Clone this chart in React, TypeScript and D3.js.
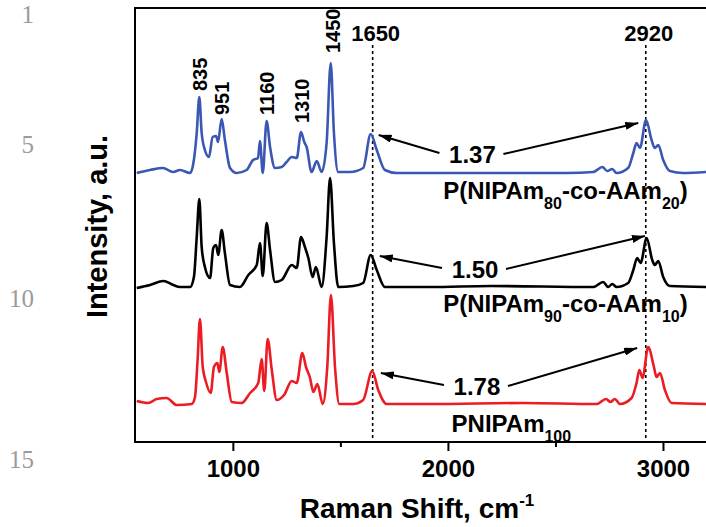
import React, { useEffect, useRef } from 'react';
import * as d3 from 'd3';

// Raman spectra, [shift cm-1, intensity a.u.] (offset stacked as in the figure)
const blueSpectrum = [
  [553, 26.9], [615, 27.2], [675, 27.4], [722, 27.0], [754, 27.2], [801, 26.9], [815, 27.7], [832, 30.9],
  [844, 34.5], [855, 30.9], [870, 29.2], [889, 28.5], [906, 30.5], [922, 30.6], [931, 30.0], [948, 32.3],
  [963, 30.2], [987, 27.4], [1018, 26.9], [1064, 27.2], [1094, 28.2], [1117, 28.4], [1126, 30.1], [1139, 26.9],
  [1157, 32.1], [1173, 29.5], [1196, 27.4], [1227, 27.5], [1250, 28.0], [1274, 28.5], [1297, 28.4], [1317, 31.0],
  [1332, 30.0], [1343, 29.5], [1366, 27.0], [1390, 28.1], [1413, 27.0], [1436, 29.9], [1455, 37.9], [1470, 30.9],
  [1490, 27.0], [1545, 27.0], [1606, 27.4], [1641, 30.8], [1669, 29.2], [1707, 27.2], [1762, 26.9], [1917, 26.9],
  [2242, 26.9], [2552, 26.9], [2676, 27.0], [2718, 27.5], [2741, 27.1], [2764, 27.3], [2784, 26.9], [2838, 27.4],
  [2862, 28.9], [2877, 29.9], [2893, 29.4], [2921, 32.2], [2947, 30.2], [2962, 29.4], [2978, 29.7], [3001, 28.2],
  [3032, 27.1], [3094, 26.9], [3200, 27.0],
];

const blackSpectrum = [
  [553, 15.4], [615, 15.7], [677, 16.1], [723, 15.7], [754, 15.5], [801, 15.5], [819, 16.5], [832, 20.5],
  [844, 24.3], [855, 19.5], [870, 17.5], [894, 16.4], [909, 19.4], [922, 19.7], [932, 18.7], [948, 21.2],
  [963, 18.9], [987, 15.7], [1033, 15.5], [1072, 16.7], [1111, 17.7], [1126, 19.9], [1139, 16.6], [1157, 21.9],
  [1173, 19.2], [1196, 16.0], [1227, 16.2], [1274, 17.7], [1297, 17.4], [1317, 20.5], [1335, 19.5], [1351, 18.4],
  [1371, 16.5], [1386, 17.5], [1413, 15.5], [1436, 20.5], [1452, 26.4], [1470, 19.9], [1490, 15.5], [1560, 15.6],
  [1606, 15.9], [1641, 18.7], [1669, 17.2], [1707, 15.5], [1917, 15.5], [2200, 15.6], [2676, 15.5], [2722, 16.0],
  [2745, 15.5], [2764, 15.8], [2784, 15.5], [2838, 15.9], [2862, 17.2], [2880, 18.4], [2896, 17.9], [2924, 20.4],
  [2950, 18.2], [2962, 17.7], [2978, 18.1], [3001, 16.5], [3032, 15.6], [3200, 15.5],
];

const redSpectrum = [
  [553, 4.1], [607, 3.9], [646, 4.3], [692, 4.4], [739, 3.7], [809, 3.8], [824, 4.5], [836, 8.2],
  [847, 12.3], [860, 7.5], [875, 6.0], [897, 4.9], [912, 7.5], [928, 7.9], [937, 7.0], [953, 9.5],
  [971, 7.0], [995, 4.0], [1041, 3.9], [1080, 4.9], [1118, 5.9], [1134, 8.3], [1146, 5.1], [1162, 10.3],
  [1181, 7.2], [1204, 4.2], [1238, 4.7], [1274, 6.1], [1297, 5.9], [1323, 8.9], [1340, 7.5], [1359, 6.4],
  [1374, 5.0], [1393, 5.8], [1418, 3.8], [1439, 7.5], [1456, 14.7], [1475, 7.5], [1495, 3.8], [1560, 3.8],
  [1606, 4.2], [1648, 7.1], [1676, 5.2], [1715, 3.8], [1917, 3.8], [2350, 3.9], [2692, 3.8], [2735, 4.3],
  [2756, 4.0], [2776, 4.3], [2800, 3.8], [2854, 4.4], [2877, 5.9], [2890, 7.2], [2905, 6.4], [2931, 9.5],
  [2958, 7.5], [2970, 6.5], [2986, 6.9], [3009, 5.2], [3040, 3.9], [3200, 3.8],
];

const seriesColors = ['#3a57b4', '#000000', '#ec1c24'];

// peak labels (rotated) at [shift, intensity of label bottom]
const peakNames = ['835', '951', '1160', '1310', '1450'];
const peakLabelPos = [[847, 35.1], [949, 32.7], [1159, 32.7], [1321, 31.9], [1465, 38.9]];

// dashed reference lines
const refLines = [1650, 2920];
const refLabelY = 40.1;
const refLineTop = 39.7;

// intensity ratio annotations
const ratioLabels = ['1.37', '1.50', '1.78'];
const ratioPos = [[2114, 27.9], [2126, 16.4], [2135, 4.7]];
const ratioLeftHead = [[1678, 30.7], [1683, 18.6], [1688, 6.9]];
const ratioRightHead = [[2885, 31.9], [2916, 20.6], [2880, 9.4]];

// sample names: alternating normal / subscript parts
const sampleParts = [
  ['P(NIPAm', '80', '-co-AAm', '20', ')'],
  ['P(NIPAm', '90', '-co-AAm', '10', ')'],
  ['PNIPAm', '100'],
];
const samplePos = [[1978, 24.3], [1978, 13.0], [2017, 1.0]];

const majorTicks = [1000, 2000, 3000];
const minorTicks = [1500, 2500];

// manuscript line numbers in the page margin
const lineNumbers = ['1', '5', '10', '15'];
const lineNumberY = [23, 153, 307, 468];

const W = 706;
const H = 527;
const left = 135;
const top = 8;
const bottom = 442;
const FONT = "'Liberation Sans', Arial, Helvetica, sans-serif";

const App = () => {
  const axisRef = useRef<SVGGElement>(null);

  const x = d3.scaleLinear().domain([545, 3200]).range([left, W]);
  const y = d3.scaleLinear().domain([0, 43.4]).range([bottom, top]);

  const line = d3.line<number[]>()
    .x(d => x(d[0]))
    .y(d => y(d[1]))
    .curve(d3.curveMonotoneX);

  useEffect(() => {
    const g = d3.select(axisRef.current);
    g.selectAll('*').remove();

    const major = g.append('g')
      .call(d3.axisBottom(x).tickValues(majorTicks).tickSize(9).tickPadding(9).tickFormat(d3.format('d')));
    major.select('.domain').remove();
    major.selectAll('line').attr('stroke-width', 2);
    major.selectAll('text')
      .style('font-family', FONT)
      .style('font-size', '24px')
      .style('font-weight', 'bold')
      .attr('fill', '#000');

    const minor = g.append('g')
      .call(d3.axisBottom(x).tickValues(minorTicks).tickSize(5).tickFormat(() => ''));
    minor.select('.domain').remove();
    minor.selectAll('line').attr('stroke-width', 2);
  }, []);

  const spectra = [blueSpectrum, blackSpectrum, redSpectrum];

  return (
    <svg width={W} height={H} style={{ position: 'absolute', left: 0, top: 0, background: '#fff' }}
      fontFamily={FONT}>
      <defs>
        <clipPath id="plot-clip">
          <rect x={left} y={top} width={W - left} height={bottom - top} />
        </clipPath>
        <marker id="arrow-head" viewBox="0 0 13 8" refX="13" refY="4" markerWidth="13" markerHeight="8"
          markerUnits="userSpaceOnUse" orient="auto">
          <path d="M0,0 L13,4 L0,8 z" fill="#000" />
        </marker>
      </defs>

      {lineNumbers.map((n, i) => (
        <text key={n} x={34} y={lineNumberY[i]} textAnchor="end" fill="#9b9b9b"
          fontFamily="'Liberation Serif', 'Times New Roman', serif" fontSize={25}>{n}</text>
      ))}

      {/* dashed markers */}
      {refLines.map(r => (
        <g key={r}>
          <line x1={x(r)} x2={x(r)} y1={y(refLineTop)} y2={bottom} stroke="#000" strokeWidth={1.6}
            strokeDasharray="3,3" />
          <text x={x(r) + 3} y={y(refLabelY)} textAnchor="middle" fontSize={22} fontWeight="bold">{r}</text>
        </g>
      ))}

      <g clipPath="url(#plot-clip)">
        {spectra.map((s, i) => (
          <path key={i} d={line(s) || ''} fill="none" stroke={seriesColors[i]} strokeWidth={2.6}
            strokeLinejoin="round" />
        ))}
      </g>

      {peakNames.map((p, i) => (
        <text key={p} transform={`translate(${x(peakLabelPos[i][0]) + 7},${y(peakLabelPos[i][1])}) rotate(-90)`}
          fontSize={20} fontWeight="bold">{p}</text>
      ))}

      {ratioLabels.map((r, i) => {
        const lx = x(ratioPos[i][0]);
        const ly = y(ratioPos[i][1]);
        return (
          <g key={r}>
            <text x={lx} y={ly} textAnchor="middle" fontSize={24} fontWeight="bold">{r}</text>
            <line x1={lx - 33} y1={ly - 10} x2={x(ratioLeftHead[i][0])} y2={y(ratioLeftHead[i][1])}
              stroke="#000" strokeWidth={2} markerEnd="url(#arrow-head)" />
            <line x1={lx + 31} y1={ly - 9} x2={x(ratioRightHead[i][0])} y2={y(ratioRightHead[i][1])}
              stroke="#000" strokeWidth={2} markerEnd="url(#arrow-head)" />
          </g>
        );
      })}

      {sampleParts.map((parts, i) => (
        <text key={i} x={x(samplePos[i][0])} y={y(samplePos[i][1])} fontSize={24} fontWeight="bold">
          {parts.map((p, j) => (
            j % 2 === 1
              ? <tspan key={j} dy={10} fontSize={16}>{p}</tspan>
              : <tspan key={j} dy={j === 0 ? 0 : -10}>{p}</tspan>
          ))}
        </text>
      ))}

      {/* frame */}
      <rect x={left} y={top} width={W - left + 10} height={bottom - top} fill="none" stroke="#000" strokeWidth={2} />

      <g ref={axisRef} transform={`translate(0,${bottom})`} />

      <text x={(301 + 533) / 2} y={518} textAnchor="middle" fontSize={28} fontWeight="bold">
        Raman Shift, cm<tspan dy={-12} fontSize={17}>-1</tspan>
      </text>
      <text transform={`translate(107,${(130 + 323) / 2}) rotate(-90)`} textAnchor="middle" fontSize={29}
        fontWeight="bold">Intensity, a.u.</text>
    </svg>
  );
};

export default App;
